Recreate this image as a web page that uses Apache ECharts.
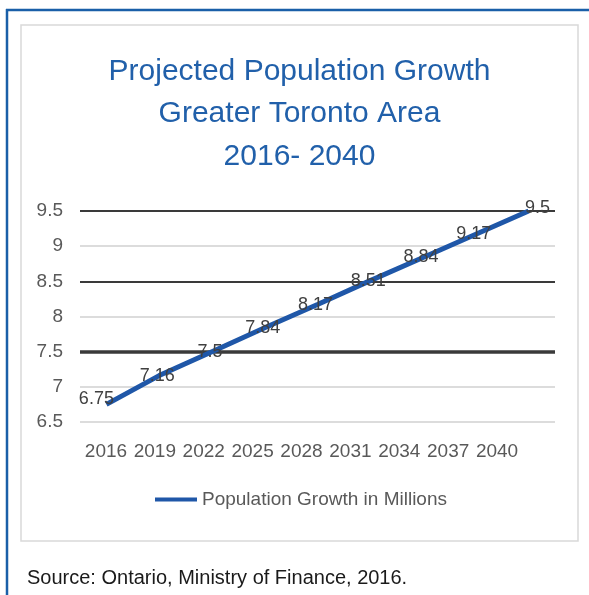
<!DOCTYPE html>
<html>
<head>
<meta charset="utf-8">
<script src="https://cdn.jsdelivr.net/npm/echarts@6/dist/echarts.min.js"></script>
<style>
  html, body { margin: 0; padding: 0; background: #ffffff; }
  #chart { width: 589px; height: 595px; }
</style>
</head>
<body>
<div id="chart"></div>
<script>
// ---- data ----
const categories = ['2016', '2019', '2022', '2025', '2028', '2031', '2034', '2037', '2040'];
const populationMillions = [6.75, 7.16, 7.5, 7.84, 8.17, 8.51, 8.84, 9.17, 9.5];
const seriesName = 'Population Growth in Millions';
const yMin = 6.5;
const yMax = 9.5;
const yStep = 0.5;
const emphasisLines = [7.5, 8.5, 9.5];
const titleText = 'Projected Population Growth\nGreater Toronto Area\n2016- 2040';
const sourceText = 'Source: Ontario, Ministry of Finance, 2016.';

// ---- chart ----
const FONT = '"Liberation Sans", Arial, sans-serif';
const BLUE = '#1f57a8';
const chart = echarts.init(document.getElementById('chart'), null, { renderer: 'canvas' });

const lastIdx = populationMillions.length - 1;
const seriesData = populationMillions.map((v, i) => {
  let offset = [-2, 0];
  if (i === 0) offset = [-10, -5];
  if (i === lastIdx) offset = [9, -3];
  return { value: v, label: { offset: offset } };
});

chart.setOption({
  animation: false,
  backgroundColor: '#ffffff',
  title: [
    {
      text: titleText,
      left: 299.5,
      top: 50,
      padding: 0,
      textAlign: 'center',
      textStyle: {
        color: '#2160aa',
        fontFamily: FONT,
        fontSize: 30,
        fontWeight: 'normal',
        lineHeight: 42.5
      }
    },
    {
      text: sourceText,
      left: 27,
      top: 567,
      padding: 0,
      textStyle: {
        color: '#1a1a1a',
        fontFamily: FONT,
        fontSize: 20,
        fontWeight: 'normal',
        lineHeight: 22
      }
    }
  ],
  graphic: [
    { type: 'rect', shape: { x: 21, y: 25, width: 557, height: 516 },
      style: { fill: 'none', stroke: '#d9d9d9', lineWidth: 1.5 }, silent: true, z: -1 },
    { type: 'line', shape: { x1: 6, y1: 10, x2: 589, y2: 10 },
      style: { stroke: '#1a5fa8', lineWidth: 2.5 }, silent: true },
    { type: 'line', shape: { x1: 7, y1: 9, x2: 7, y2: 595 },
      style: { stroke: '#1a5fa8', lineWidth: 2.5 }, silent: true }
  ],
  legend: {
    data: [seriesName],
    left: 155,
    top: 490,
    padding: 0,
    icon: 'rect',
    itemWidth: 42,
    itemHeight: 4,
    itemStyle: { color: BLUE },
    textStyle: { color: '#595959', fontFamily: FONT, fontSize: 19 }
  },
  grid: [
    { left: 80, right: 34, top: 211, bottom: 173, containLabel: false },
    { left: 81.5, right: 67.5, top: 211, bottom: 173, containLabel: false }
  ],
  xAxis: [
    {
      gridIndex: 0,
      type: 'category',
      data: categories,
      boundaryGap: true,
      axisLine: { show: false },
      axisTick: { show: false },
      axisLabel: { show: false },
      splitLine: { show: false }
    },
    {
      gridIndex: 1,
      type: 'category',
      data: categories,
      boundaryGap: true,
      axisLine: { show: false },
      axisTick: { show: false },
      axisLabel: { color: '#595959', fontFamily: FONT, fontSize: 19, margin: 20, interval: 0, hideOverlap: false },
      splitLine: { show: false }
    }
  ],
  yAxis: [
    {
      gridIndex: 0,
      type: 'value',
      min: yMin,
      max: yMax,
      interval: yStep,
      axisLine: { show: false },
      axisTick: { show: false },
      axisLabel: { color: '#595959', fontFamily: FONT, fontSize: 19, margin: 17 },
      splitLine: { show: true, lineStyle: { color: '#dcdcdc', width: 2 } }
    },
    {
      gridIndex: 1,
      type: 'value',
      min: yMin,
      max: yMax,
      interval: yStep,
      show: false,
      splitLine: { show: false }
    }
  ],
  series: [
    {
      name: seriesName,
      type: 'line',
      xAxisIndex: 0,
      yAxisIndex: 0,
      data: seriesData,
      symbol: 'circle',
      symbolSize: 0,
      itemStyle: { color: BLUE },
      lineStyle: { color: BLUE, width: 5 },
      label: {
        show: true,
        position: 'inside',
        color: '#404040',
        fontFamily: FONT,
        fontSize: 18
      },
      markLine: {
        silent: true,
        symbol: ['none', 'none'],
        label: { show: false },
        z: 1,
        data: emphasisLines.map(v => ({
          yAxis: v,
          lineStyle: { color: '#3a3a3a', type: 'solid', width: v === 7.5 ? 3.5 : 2 }
        }))
      },
      z: 3
    }
  ]
});
</script>
</body>
</html>
